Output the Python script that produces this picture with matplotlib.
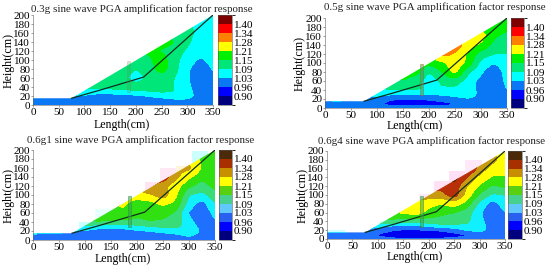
import numpy as np
import matplotlib
matplotlib.use('Agg')
import matplotlib.pyplot as plt
from matplotlib.colors import ListedColormap, BoundaryNorm
from matplotlib.patches import PathPatch, Rectangle
from matplotlib.path import Path
from matplotlib.cm import ScalarMappable

plt.rcParams['font.family'] = ['Liberation Serif', 'DejaVu Serif']

W, H = 550, 268

# grid the amplification factors were read on
lengths = [0, 25, 50, 75, 100, 125, 150, 175, 200, 225, 250, 275, 300, 325, 350]
heights = [0, 10, 20, 30, 40, 60, 80, 100, 120, 140, 160, 180, 200]
levels = [0.84, 0.90, 0.96, 1.03, 1.09, 1.15, 1.21, 1.28, 1.34, 1.40, 1.46]
tick_labels = ['0.90', '0.96', '1.03', '1.09', '1.15', '1.21', '1.28', '1.34', '1.40']

titles = ['0.3g sine wave PGA amplification factor response',
          '0.5g sine wave PGA amplification factor response',
          '0.6g1 sine wave PGA amplification factor response',
          '0.6g4 sine wave PGA amplification factor response']

slope_x = [0, 350, 350, 75, 0]
slope_y = [0, 0, 200, 15, 15]
crack_x = [75, 130, 215, 350]
crack_y = [15, 33, 62, 200]

g03 = [
    [1.00, 1.00, 1.00, 1.00, 1.00, 1.00, 1.00, 1.00, 1.00, 1.00, 1.00, 1.00, 1.00, 1.00, 1.00],
    [1.00, 1.00, 1.00, 1.00, 1.00, 1.00, 1.00, 1.00, 1.00, 1.00, 1.00, 1.01, 1.02, 1.00, 1.00],
    [1.03, 1.05, 1.05, 1.03, 1.02, 1.01, 1.01, 1.01, 1.015, 1.03, 1.05, 1.07, 1.05, 1.01, 1.00],
    [1.05, 1.05, 1.08, 1.09, 1.07, 1.05, 1.05, 1.07, 1.08, 1.09, 1.10, 1.09, 1.05, 1.00, 1.00],
    [1.05, 1.05, 1.08, 1.09, 1.11, 1.11, 1.12, 1.12, 1.12, 1.12, 1.11, 1.09, 1.04, 1.00, 1.00],
    [1.05, 1.05, 1.08, 1.09, 1.10, 1.11, 1.11, 1.11, 1.06, 1.10, 1.12, 1.09, 1.035, 1.00, 1.02],
    [1.05, 1.05, 1.08, 1.09, 1.11, 1.12, 1.12, 1.12, 1.09, 1.12, 1.18, 1.11, 1.04, 0.99, 1.035],
    [1.05, 1.05, 1.08, 1.09, 1.11, 1.12, 1.13, 1.13, 1.13, 1.14, 1.18, 1.11, 1.06, 1.02, 1.05],
    [1.05, 1.05, 1.08, 1.09, 1.11, 1.12, 1.13, 1.14, 1.14, 1.16, 1.145, 1.12, 1.08, 1.05, 1.06],
    [1.05, 1.05, 1.08, 1.09, 1.11, 1.12, 1.13, 1.14, 1.14, 1.15, 1.18, 1.15, 1.10, 1.06, 1.06],
    [1.05, 1.05, 1.08, 1.09, 1.11, 1.12, 1.13, 1.14, 1.14, 1.15, 1.14, 1.13, 1.11, 1.07, 1.06],
    [1.05, 1.05, 1.08, 1.09, 1.11, 1.12, 1.13, 1.14, 1.14, 1.14, 1.13, 1.12, 1.10, 1.07, 1.07],
    [1.05, 1.05, 1.08, 1.09, 1.11, 1.12, 1.13, 1.14, 1.14, 1.14, 1.13, 1.12, 1.10, 1.07, 1.07],
]
g05 = [
    [0.99, 0.99, 1.00, 0.99, 0.98, 0.98, 0.98, 0.98, 0.98, 0.98, 0.98, 0.98, 0.98, 0.99, 0.99],
    [1.00, 1.01, 1.00, 0.98, 0.965, 0.945, 0.94, 0.94, 0.94, 0.945, 0.95, 0.965, 0.98, 0.99, 0.99],
    [1.05, 1.05, 1.04, 1.02, 1.00, 0.965, 0.955, 0.955, 0.965, 0.98, 1.01, 1.03, 1.01, 0.99, 0.99],
    [1.06, 1.06, 1.06, 1.05, 1.05, 1.04, 1.03, 1.03, 1.03, 1.04, 1.05, 1.05, 1.02, 0.99, 1.00],
    [1.06, 1.06, 1.06, 1.07, 1.08, 1.09, 1.09, 1.09, 1.09, 1.08, 1.07, 1.06, 1.01, 0.98, 1.03],
    [1.06, 1.06, 1.06, 1.08, 1.10, 1.13, 1.15, 1.12, 1.05, 1.10, 1.12, 1.06, 1.01, 0.97, 1.05],
    [1.06, 1.06, 1.06, 1.08, 1.12, 1.15, 1.17, 1.17, 1.09, 1.15, 1.23, 1.10, 1.04, 0.98, 1.06],
    [1.06, 1.06, 1.06, 1.08, 1.12, 1.15, 1.18, 1.19, 1.17, 1.19, 1.26, 1.19, 1.07, 1.03, 1.07],
    [1.06, 1.06, 1.06, 1.08, 1.12, 1.15, 1.18, 1.20, 1.21, 1.31, 1.27, 1.20, 1.12, 1.09, 1.09],
    [1.06, 1.06, 1.06, 1.08, 1.12, 1.15, 1.18, 1.20, 1.22, 1.29, 1.33, 1.24, 1.20, 1.13, 1.11],
    [1.06, 1.06, 1.06, 1.08, 1.12, 1.15, 1.18, 1.20, 1.22, 1.26, 1.26, 1.25, 1.24, 1.16, 1.13],
    [1.06, 1.06, 1.06, 1.08, 1.12, 1.15, 1.18, 1.20, 1.22, 1.24, 1.24, 1.22, 1.19, 1.18, 1.17],
    [1.06, 1.06, 1.06, 1.08, 1.12, 1.15, 1.18, 1.20, 1.22, 1.24, 1.24, 1.22, 1.19, 1.18, 1.17],
]
g06_1 = [
    [1.00, 1.00, 1.00, 1.00, 1.00, 1.00, 1.00, 1.00, 1.00, 1.00, 1.00, 1.00, 1.00, 1.00, 1.00],
    [1.02, 1.00, 1.01, 1.00, 1.00, 1.00, 1.00, 1.00, 1.00, 1.00, 1.00, 1.01, 1.04, 1.00, 1.00],
    [1.06, 1.06, 1.05, 1.04, 1.02, 1.01, 1.01, 1.01, 1.02, 1.03, 1.05, 1.07, 1.08, 1.02, 1.00],
    [1.07, 1.07, 1.07, 1.07, 1.08, 1.05, 1.04, 1.05, 1.07, 1.09, 1.10, 1.10, 1.07, 1.00, 1.00],
    [1.08, 1.08, 1.09, 1.10, 1.14, 1.15, 1.14, 1.13, 1.14, 1.15, 1.14, 1.12, 1.05, 0.99, 1.02],
    [1.08, 1.08, 1.09, 1.12, 1.18, 1.19, 1.20, 1.20, 1.16, 1.16, 1.17, 1.14, 1.02, 0.98, 1.05],
    [1.08, 1.08, 1.09, 1.12, 1.19, 1.20, 1.20, 1.22, 1.17, 1.18, 1.22, 1.19, 1.06, 1.00, 1.09],
    [1.08, 1.08, 1.09, 1.12, 1.19, 1.20, 1.21, 1.25, 1.25, 1.27, 1.32, 1.22, 1.09, 1.07, 1.12],
    [1.08, 1.08, 1.09, 1.12, 1.19, 1.21, 1.23, 1.27, 1.29, 1.35, 1.30, 1.24, 1.16, 1.12, 1.17],
    [1.08, 1.08, 1.09, 1.12, 1.19, 1.21, 1.23, 1.28, 1.32, 1.38, 1.38, 1.30, 1.22, 1.17, 1.19],
    [1.08, 1.08, 1.09, 1.12, 1.19, 1.21, 1.23, 1.28, 1.30, 1.32, 1.33, 1.30, 1.30, 1.20, 1.19],
    [1.08, 1.08, 1.09, 1.12, 1.19, 1.21, 1.23, 1.28, 1.30, 1.31, 1.31, 1.28, 1.25, 1.20, 1.20],
    [1.08, 1.08, 1.09, 1.12, 1.19, 1.21, 1.23, 1.28, 1.30, 1.31, 1.31, 1.28, 1.25, 1.21, 1.20],
]
g06_4 = [
    [0.99, 0.99, 0.99, 0.98, 0.98, 0.97, 0.97, 0.97, 0.97, 0.97, 0.97, 0.98, 0.98, 0.99, 0.99],
    [1.00, 1.00, 1.00, 0.98, 0.95, 0.935, 0.925, 0.925, 0.925, 0.93, 0.94, 0.95, 0.975, 1.00, 1.00],
    [1.06, 1.06, 1.04, 1.02, 1.00, 0.965, 0.95, 0.95, 0.955, 0.965, 0.99, 1.04, 1.06, 1.00, 0.99],
    [1.07, 1.07, 1.07, 1.06, 1.05, 1.03, 1.02, 1.02, 1.05, 1.07, 1.08, 1.08, 1.06, 1.00, 1.00],
    [1.08, 1.08, 1.09, 1.10, 1.12, 1.13, 1.12, 1.11, 1.12, 1.13, 1.11, 1.10, 1.05, 0.99, 1.01],
    [1.08, 1.08, 1.09, 1.13, 1.20, 1.21, 1.22, 1.24, 1.19, 1.16, 1.15, 1.12, 1.04, 0.98, 1.03],
    [1.08, 1.08, 1.09, 1.13, 1.22, 1.23, 1.24, 1.27, 1.23, 1.21, 1.24, 1.18, 1.07, 1.00, 1.06],
    [1.08, 1.08, 1.09, 1.13, 1.22, 1.24, 1.27, 1.30, 1.32, 1.32, 1.38, 1.25, 1.14, 1.08, 1.09],
    [1.08, 1.08, 1.09, 1.13, 1.22, 1.24, 1.28, 1.32, 1.35, 1.36, 1.38, 1.28, 1.20, 1.14, 1.16],
    [1.08, 1.08, 1.09, 1.13, 1.22, 1.24, 1.28, 1.33, 1.37, 1.41, 1.43, 1.34, 1.26, 1.20, 1.20],
    [1.08, 1.08, 1.09, 1.13, 1.22, 1.24, 1.28, 1.33, 1.38, 1.41, 1.43, 1.41, 1.32, 1.25, 1.24],
    [1.08, 1.08, 1.09, 1.13, 1.22, 1.24, 1.28, 1.33, 1.38, 1.40, 1.42, 1.36, 1.34, 1.30, 1.25],
    [1.08, 1.08, 1.09, 1.13, 1.22, 1.24, 1.28, 1.33, 1.38, 1.40, 1.42, 1.36, 1.30, 1.28, 1.25],
]
fields = [g03, g05, g06_1, g06_4]

bright = ['#00007f', '#0000ff', '#0a78f5', '#00ffff', '#00e678',
          '#00f000', '#ffff00', '#ff8000', '#ff0000', '#7f0000']
dull_field = ['#00007f', '#0000f0', '#1f70ff', '#10f0ff', '#38dc78',
              '#30e010', '#ffff00', '#c89a10', '#b83008', '#5a2000']
dull_bar = ['#00007f', '#0000ff', '#2a60f0', '#60c8ff', '#48d090',
            '#58d010', '#ffff00', '#c89000', '#a83000', '#4a2a08']

# pixel boxes of plot and colour bar: left, top, right, bottom
plot_boxes = [(33, 15, 213, 105), (325, 18, 507, 108), (33, 150, 215, 240), (327, 151, 505, 239)]
bar_boxes = [(218, 15, 232, 105), (511, 18, 524, 108), (219, 150, 232, 240), (508, 151, 522, 239)]
title_pos = [(142, 9), (435, 7), (141, 140), (432, 141)]
xlabel_pos = [(122, 125), (415, 126), (123, 259), (415, 257)]
ylabel_pos = [(9, 60), (300, 63), (9, 195), (303, 195)]
bore_colors = ['#e05050', '#a06040', '#209040', '#209040']

# pale blocks round the slope in the two lower plots: x, y, w, h, colour
blocks = [
    [],
    [],
    [(88, 18, 32, 22, '#ccffff'), (120, 38, 32, 32, '#e6ffff'), (215, 90, 30, 38, '#ffe4f4'),
     (245, 127, 30, 32, '#ffe8f4'), (275, 140, 30, 25, '#fff4d8'), (305, 162, 32, 36, '#ccffff')],
    [(0, 15, 35, 6, '#ccffff'), (105, 20, 32, 20, '#ccffff'), (180, 75, 30, 28, '#ffe8f8'),
     (210, 100, 32, 32, '#ffe0f4'), (240, 125, 32, 30, '#ffe0f4'), (272, 150, 32, 30, '#ffe8f8')],
]


def box_to_fig(box):
    l, t, r, b = box
    return [l / W, 1 - b / H, (r - l) / W, (b - t) / H]


def smooth(values):
    # fine grid so the bands come out rounded, not angular
    values = np.array(values)
    xf = np.linspace(0, 350, 141)
    yf = np.linspace(0, 200, 101)
    rows = np.array([np.interp(xf, lengths, r) for r in values])
    fine = np.array([np.interp(yf, heights, c) for c in rows.T]).T
    kernel = np.hanning(9)
    kernel = kernel / kernel.sum()
    pad = np.pad(fine, 4, mode='edge')
    pad = np.apply_along_axis(lambda v: np.convolve(v, kernel, mode='same'), 0, pad)
    pad = np.apply_along_axis(lambda v: np.convolve(v, kernel, mode='same'), 1, pad)
    return xf, yf, pad[4:-4, 4:-4]


fig = plt.figure(figsize=(W / 100, H / 100), dpi=100)

for i in range(4):
    ax = fig.add_axes(box_to_fig(plot_boxes[i]))
    face = bright if i < 2 else dull_field
    bar = bright if i < 2 else dull_bar
    norm = BoundaryNorm(levels, len(face))

    for bx, by, bw, bh, bc in blocks[i]:
        ax.add_patch(Rectangle((bx, by), bw, bh, fc=bc, ec='none', zorder=0))

    xf, yf, zf = smooth(fields[i])
    cf = ax.contourf(xf, yf, zf, levels=levels, colors=face, zorder=1)
    clip = PathPatch(Path(np.column_stack([slope_x, slope_y])), transform=ax.transData,
                     fc='none', ec='none')
    ax.add_patch(clip)
    cf.set_clip_path(clip)

    ax.plot(crack_x, crack_y, color='#103020', lw=0.9, zorder=3)
    ax.add_patch(Rectangle((183, 28), 5, 70, fc='#40a050', ec=bore_colors[i], lw=0.6,
                           alpha=0.55 if i != 0 else 0.25, zorder=3))

    ax.set_xlim(0, 350)
    ax.set_ylim(0, 200)
    ax.set_xticks(range(0, 351, 50))
    ax.set_yticks(range(0, 201, 20))
    ax.tick_params(length=1.5, width=0.4, labelsize=8.0, pad=0.5, color='#555555')
    for s in ['top', 'right']:
        ax.spines[s].set_visible(False)
    for s in ['left', 'bottom']:
        ax.spines[s].set_linewidth(0.4)
        ax.spines[s].set_color('#666666')

    cax = fig.add_axes(box_to_fig(bar_boxes[i]))
    sm = ScalarMappable(norm=norm, cmap=ListedColormap(bar))
    cb = fig.colorbar(sm, cax=cax, ticks=levels[1:-1], spacing='uniform')
    cb.ax.set_yticklabels(tick_labels)
    cb.ax.tick_params(length=0, labelsize=8.0, pad=1.5)
    cb.outline.set_linewidth(0.4)
    cb.outline.set_edgecolor('#555555')

    tx, ty = title_pos[i]
    fig.text(tx / W, 1 - ty / H, titles[i], ha='center', va='center', fontsize=7.9, color='#222222')
    lx, ly = xlabel_pos[i]
    fig.text(lx / W, 1 - ly / H, 'Length(cm)', ha='center', va='center', fontsize=8.6)
    hx, hy = ylabel_pos[i]
    fig.text(hx / W, 1 - hy / H, 'Height(cm)', ha='center', va='center', rotation=90, fontsize=8.6)

fig.savefig('out.png', dpi=100)
